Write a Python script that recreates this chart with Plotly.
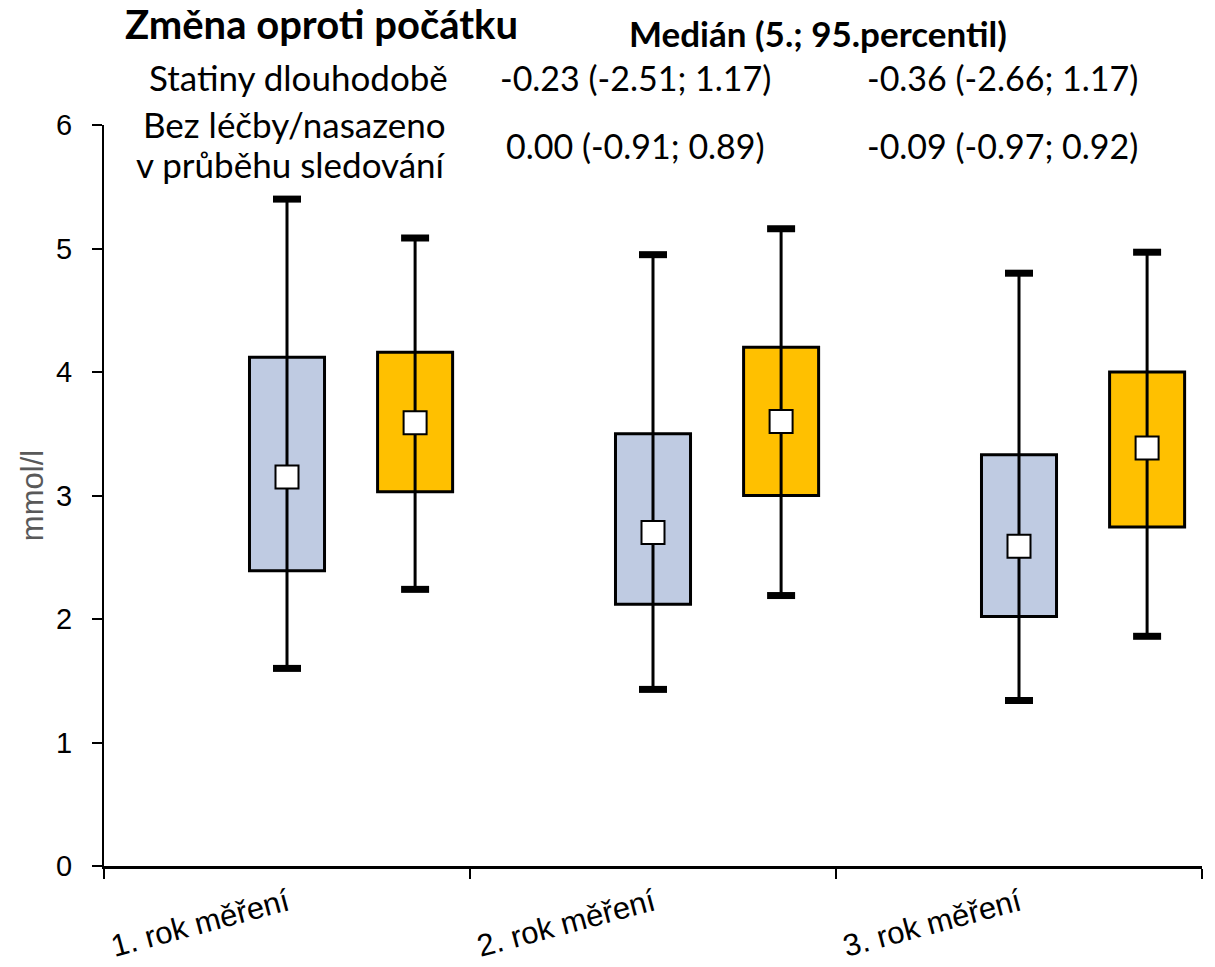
import plotly.graph_objects as go

# ---------------- data ----------------
categories = ["1. rok měření", "2. rok měření", "3. rok měření"]

# Statiny dlouhodobě (blue)
blue_p5 = [1.60, 1.43, 1.34]
blue_q1 = [2.39, 2.12, 2.02]
blue_med = [3.15, 2.70, 2.59]
blue_q3 = [4.12, 3.50, 3.33]
blue_p95 = [5.40, 4.95, 4.80]

# Bez léčby / nasazeno v průběhu sledování (orange)
orange_p5 = [2.24, 2.19, 1.86]
orange_q1 = [3.03, 3.00, 2.745]
orange_med = [3.59, 3.60, 3.385]
orange_q3 = [4.16, 4.20, 4.00]
orange_p95 = [5.085, 5.16, 4.97]

y_ticks = [0, 1, 2, 3, 4, 5, 6]

title_text = "Změna oproti počátku"
header_text = "Medián (5.; 95.percentil)"
row1_label = "Statiny dlouhodobě"
row2_label_a = "Bez léčby/nasazeno"
row2_label_b = "v průběhu sledování"
row1_values = ["-0.23 (-2.51; 1.17)", "-0.36 (-2.66; 1.17)"]
row2_values = ["0.00 (-0.91; 0.89)", "-0.09 (-0.97; 0.92)"]
y_title = "mmol/l"

# ---------------- style ----------------
BLUE = "#BFCBE2"
ORANGE = "#FFC000"
AX_FONT = "Liberation Sans, Arial, sans-serif"
TX_FONT = "Lato, Carlito, Calibri, sans-serif"

W, H = 1215, 967
L, R, T, B = 104, 13, 125, 101
PW, PH = W - L - R, H - T - B

def px(x):
    return (x - L) / PW

def py(y):
    return (H - B - y) / PH

idx = list(range(len(categories)))
blue_x = [i + 0.0 for i in idx]
orange_x = [i + 0.35 for i in idx]
box_w = 0.205

fig = go.Figure()

for xs, q1, q3, col in [(blue_x, blue_q1, blue_q3, BLUE), (orange_x, orange_q1, orange_q3, ORANGE)]:
    fig.add_trace(go.Bar(
        x=xs, base=q1, y=[b - a for a, b in zip(q1, q3)], width=[box_w] * len(xs),
        marker=dict(color=col, line=dict(color="black", width=3)),
        showlegend=False, hoverinfo="skip"))

for xs, lo, hi, med in [(blue_x, blue_p5, blue_p95, blue_med), (orange_x, orange_p5, orange_p95, orange_med)]:
    wx, wy = [], []
    for x, a, b in zip(xs, lo, hi):
        wx += [x, x, None]
        wy += [a, b, None]
    fig.add_trace(go.Scatter(x=wx, y=wy, mode="lines", line=dict(color="black", width=3),
                             showlegend=False, hoverinfo="skip"))
    fig.add_trace(go.Scatter(x=xs + xs, y=lo + hi, mode="markers",
                             marker=dict(symbol="line-ew", size=20, line=dict(color="black", width=7)),
                             showlegend=False, hoverinfo="skip"))
    fig.add_trace(go.Scatter(x=xs, y=med, mode="markers",
                             marker=dict(symbol="square", size=23, color="white", line=dict(color="black", width=2)),
                             showlegend=False, hoverinfo="skip"))

ann = []
def add(text, x, y, size, anchor="center", bold=False):
    ann.append(dict(text=("<b>%s</b>" % text) if bold else text, x=px(x), y=py(y), xref="paper", yref="paper",
                    xanchor=anchor, yanchor="middle", showarrow=False,
                    font=dict(family=TX_FONT, size=size, color="black")))

add(title_text, 321, 24, 40, bold=True)
add(header_text, 818, 33, 35, bold=True)
add(row1_label, 450, 77, 35, anchor="right")
add(row2_label_a, 448, 124, 35, anchor="right")
add(row2_label_b, 448, 164, 35, anchor="right")
add(row1_values[0], 635, 77, 34)
add(row1_values[1], 1003, 77, 34)
add(row2_values[0], 635, 145, 34)
add(row2_values[1], 1003, 145, 34)

fig.update_layout(
    width=W, height=H,
    margin=dict(l=L, r=R, t=T, b=B, autoexpand=False),
    paper_bgcolor="white", plot_bgcolor="white",
    barmode="overlay",
    annotations=ann,
    xaxis=dict(
        range=[-0.5, len(categories) - 0.5],
        tickmode="array", tickvals=idx, ticktext=categories,
        ticks="", tickangle=-15, automargin=False, ticklabelstandoff=4,
        tickfont=dict(family=AX_FONT, size=31, color="black"),
        showline=True, linecolor="black", linewidth=3,
        showgrid=False, zeroline=False,
        minor=dict(tickmode="array", tickvals=[i - 0.5 for i in range(len(categories) + 1)],
                   ticks="outside", ticklen=10, tickwidth=2, tickcolor="black", showgrid=False),
    ),
    yaxis=dict(
        range=[0, 6], tickmode="array", tickvals=y_ticks,
        ticks="outside", ticklen=10, tickwidth=2, tickcolor="black",
        ticklabelstandoff=14, automargin=False,
        tickfont=dict(family=AX_FONT, size=29, color="black"),
        showline=True, linecolor="black", linewidth=2,
        showgrid=False, zeroline=False,
        title=dict(text=y_title, font=dict(family=AX_FONT, size=31, color="#595959"), standoff=3),
    ),
)

fig.write_html("out.html", config={"displayModeBar": False},
               post_script="document.body.style.margin='0';document.body.style.padding='0';")
